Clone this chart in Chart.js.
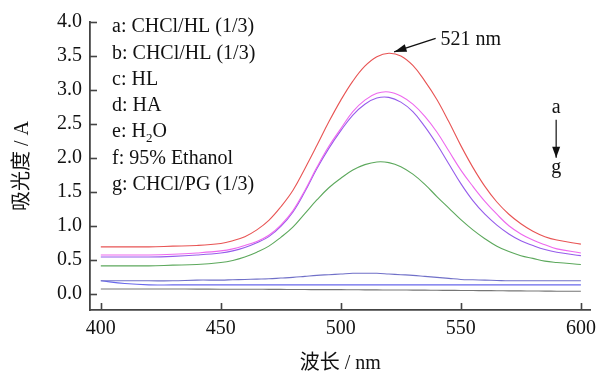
<!DOCTYPE html>
<html>
<head>
<meta charset="utf-8">
<script src="https://cdn.jsdelivr.net/npm/chart.js@4.4.1/dist/chart.umd.min.js"></script>
<style>
  html, body { margin: 0; padding: 0; background: #fff; }
  #wrap { width: 603px; height: 374px; }
</style>
</head>
<body>
<div id="wrap"><canvas id="myChart" width="603" height="374"></canvas></div>
<script>
// wavelength (nm)
var wavelengths = [400, 410, 420, 430, 440, 450, 455, 460, 465, 470, 475, 480, 485, 490, 495, 500, 505, 510, 515, 520, 525, 530, 535, 540, 545, 550, 555, 560, 565, 570, 575, 580, 585, 590, 600];

// absorbance
var aValues = [0.69, 0.69, 0.69, 0.70, 0.71, 0.74, 0.78, 0.84, 0.94, 1.08, 1.28, 1.52, 1.84, 2.18, 2.53, 2.85, 3.13, 3.35, 3.49, 3.54, 3.50, 3.36, 3.13, 2.86, 2.53, 2.18, 1.86, 1.58, 1.35, 1.17, 1.03, 0.92, 0.84, 0.79, 0.73];
var bValues = [0.57, 0.57, 0.57, 0.58, 0.60, 0.63, 0.66, 0.71, 0.77, 0.86, 1.01, 1.22, 1.52, 1.86, 2.17, 2.43, 2.68, 2.85, 2.95, 2.97, 2.91, 2.79, 2.61, 2.38, 2.10, 1.82, 1.58, 1.36, 1.17, 1.00, 0.88, 0.79, 0.72, 0.66, 0.60];
var cValues = [0.54, 0.54, 0.54, 0.55, 0.57, 0.60, 0.63, 0.68, 0.75, 0.84, 0.99, 1.20, 1.50, 1.84, 2.14, 2.40, 2.63, 2.79, 2.88, 2.89, 2.82, 2.68, 2.46, 2.20, 1.91, 1.62, 1.37, 1.17, 1.01, 0.88, 0.78, 0.71, 0.65, 0.61, 0.56];
var dValues = [0.41, 0.41, 0.41, 0.42, 0.43, 0.46, 0.49, 0.54, 0.61, 0.70, 0.83, 0.98, 1.18, 1.38, 1.56, 1.70, 1.82, 1.90, 1.94, 1.93, 1.87, 1.76, 1.61, 1.43, 1.26, 1.09, 0.94, 0.81, 0.70, 0.62, 0.56, 0.52, 0.48, 0.46, 0.43];
var eValues = [0.19, 0.19, 0.19, 0.19, 0.20, 0.20, 0.205, 0.21, 0.215, 0.22, 0.23, 0.24, 0.255, 0.27, 0.28, 0.29, 0.30, 0.30, 0.30, 0.29, 0.28, 0.27, 0.255, 0.24, 0.225, 0.21, 0.205, 0.20, 0.195, 0.19, 0.19, 0.19, 0.19, 0.19, 0.19];
var fValues = [0.19, 0.15, 0.13, 0.13, 0.13, 0.13, 0.13, 0.13, 0.13, 0.13, 0.13, 0.13, 0.13, 0.13, 0.13, 0.13, 0.13, 0.13, 0.13, 0.13, 0.13, 0.13, 0.13, 0.13, 0.13, 0.13, 0.13, 0.13, 0.13, 0.13, 0.13, 0.13, 0.13, 0.13, 0.13];
var gValues = [0.070, 0.070, 0.070, 0.070, 0.068, 0.066, 0.066, 0.065, 0.065, 0.064, 0.063, 0.062, 0.061, 0.060, 0.060, 0.060, 0.058, 0.057, 0.056, 0.055, 0.054, 0.053, 0.052, 0.050, 0.049, 0.048, 0.046, 0.045, 0.044, 0.042, 0.041, 0.040, 0.038, 0.037, 0.035];

var legendLabels = ["a: CHCl/HL (1/3)", "b: CHCl/HL (1/3)", "c: HL", "d: HA", "e: H2O", "f: 95% Ethanol", "g: CHCl/PG (1/3)"];
var xTicks = [400, 450, 500, 550, 600];
var yTicks = [0, 0.5, 1, 1.5, 2, 2.5, 3, 3.5, 4];

var seriesValues = [aValues, bValues, cValues, dValues, eValues, fValues, gValues];
var colors = ['rgb(232,84,84)', 'rgb(238,104,238)', 'rgb(150,92,235)', 'rgb(92,168,92)', 'rgb(112,112,200)', 'rgb(104,104,236)', 'rgb(118,118,118)'];

var SERIF = "'Liberation Serif', 'Noto Sans CJK SC', serif";

function toPoints(vals) {
    return wavelengths.map(function (w, i) { return {x: w, y: vals[i]}; });
}

var datasets = seriesValues.map(function (vals, i) {
    return {
        label: legendLabels[i],
        data: toPoints(vals),
        borderColor: colors[i],
        borderWidth: 1.1,
        pointRadius: 0,
        fill: false,
        tension: 0.4
    };
});

// inward tick marks, legend text and the two arrows
var extras = {
    id: 'extras',
    afterDraw: function (chart) {
        var c = chart.ctx, xs = chart.scales.x, ys = chart.scales.y, area = chart.chartArea;
        c.save();
        c.strokeStyle = '#444';
        c.lineWidth = 1.6;
        xTicks.forEach(function (t) {
            var px = Math.round(xs.getPixelForValue(t)) + 0.5;
            c.beginPath(); c.moveTo(px, area.bottom); c.lineTo(px, area.bottom - 7); c.stroke();
        });
        yTicks.forEach(function (t) {
            var py = Math.round(ys.getPixelForValue(t)) + 0.5;
            c.beginPath(); c.moveTo(area.left, py); c.lineTo(area.left + 7, py); c.stroke();
        });

        // legend
        c.fillStyle = '#111';
        c.font = '20px ' + SERIF;
        c.textBaseline = 'middle';
        c.textAlign = 'left';
        var lx = area.left + 22;
        legendLabels.forEach(function (lab, i) {
            var ly = area.top + 5 + i * 26.3;
            if (lab === 'e: H2O') {
                c.fillText('e: H', lx, ly);
                var w = c.measureText('e: H').width;
                c.font = '13px ' + SERIF;
                c.fillText('2', lx + w, ly + 6);
                var w2 = c.measureText('2').width;
                c.font = '20px ' + SERIF;
                c.fillText('O', lx + w + w2, ly);
            } else {
                c.fillText(lab, lx, ly);
            }
        });

        // 521 nm arrow
        var tipX = xs.getPixelForValue(522.2), tipY = ys.getPixelForValue(3.56);
        var tailX = xs.getPixelForValue(539.5), tailY = ys.getPixelForValue(3.76);
        c.strokeStyle = '#111';
        c.fillStyle = '#111';
        c.lineWidth = 1.4;
        c.beginPath(); c.moveTo(tailX, tailY); c.lineTo(tipX, tipY); c.stroke();
        var ang = Math.atan2(tipY - tailY, tipX - tailX);
        c.beginPath();
        c.moveTo(tipX, tipY);
        c.lineTo(tipX - 13 * Math.cos(ang - 0.3), tipY - 13 * Math.sin(ang - 0.3));
        c.lineTo(tipX - 13 * Math.cos(ang + 0.3), tipY - 13 * Math.sin(ang + 0.3));
        c.closePath(); c.fill();
        c.font = '20px ' + SERIF;
        c.fillText('521 nm', xs.getPixelForValue(541.5), ys.getPixelForValue(3.74));

        // a -> g arrow
        var ax = xs.getPixelForValue(589.7);
        c.textAlign = 'center';
        c.fillText('a', ax, ys.getPixelForValue(2.74));
        c.fillText('g', ax, ys.getPixelForValue(1.86));
        var y1 = ys.getPixelForValue(2.56), y2 = ys.getPixelForValue(2.0);
        c.lineWidth = 1.2;
        c.beginPath(); c.moveTo(ax, y1); c.lineTo(ax, y2); c.stroke();
        c.beginPath();
        c.moveTo(ax, y2); c.lineTo(ax - 4, y2 - 11); c.lineTo(ax + 4, y2 - 11);
        c.closePath(); c.fill();
        c.restore();
    }
};

var ctx = document.getElementById("myChart");
new Chart(ctx, {
    type: 'line',
    data: {datasets: datasets},
    plugins: [extras],
    options: {
        responsive: false,
        animation: false,
        layout: {padding: {left: 0, top: 22, right: 6, bottom: 0}},
        plugins: {legend: {display: false}, tooltip: {enabled: false}},
        scales: {
            x: {
                type: 'linear',
                min: 395.5,
                max: 604,
                afterBuildTicks: function (s) { s.ticks = xTicks.map(function (v) { return {value: v}; }); },
                afterFit: function (s) { s.height = 64; },
                grid: {display: false, drawTicks: false},
                border: {display: true, color: '#444', width: 1.8},
                ticks: {padding: 7, color: '#111', font: {family: SERIF, size: 20}, maxRotation: 0},
                title: {display: true, text: '波长 / nm', color: '#111', padding: 0,
                        font: {family: SERIF, size: 20, lineHeight: 1}}
            },
            y: {
                type: 'linear',
                min: -0.24,
                max: 4.0,
                afterBuildTicks: function (s) { s.ticks = yTicks.map(function (v) { return {value: v}; }); },
                afterFit: function (s) { s.width = 90; },
                grid: {display: false, drawTicks: false},
                border: {display: true, color: '#444', width: 1.8},
                ticks: {padding: 8, color: '#111', font: {family: SERIF, size: 20},
                        callback: function (v) { return v.toFixed(1); }},
                title: {display: true, text: '吸光度 / A', color: '#111', padding: {top: 11, bottom: 0},
                        font: {family: SERIF, size: 20, lineHeight: 1.2}}
            }
        }
    }
});
</script>
</body>
</html>
